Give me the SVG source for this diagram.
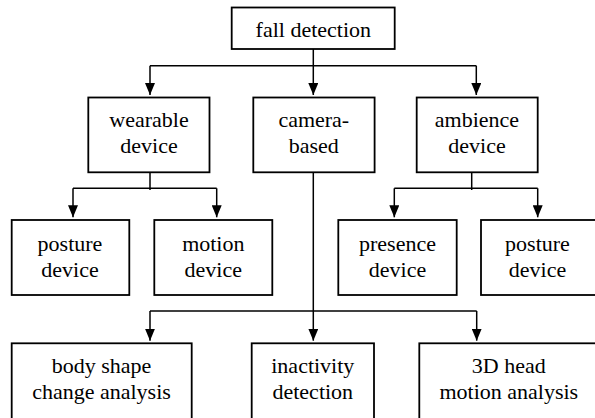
<svg xmlns="http://www.w3.org/2000/svg" width="595" height="418" viewBox="0 0 595 418">
<defs>
<marker id="arr" markerUnits="userSpaceOnUse" markerWidth="12" markerHeight="10" refX="12" refY="5" orient="auto">
<path d="M0,0 L12,5 L0,10 z" fill="#000"/>
</marker>
</defs>
<style>
.box{fill:#fff;stroke:#000;stroke-width:1.8}
.lbl{font-family:'Liberation Serif','Times New Roman',serif;font-size:22px;fill:#000;text-anchor:middle}
.ln{fill:none;stroke:#000;stroke-width:1.5}
</style>
<rect width="595" height="418" fill="#fff"/>
<g id="connectors">
<path class="ln" d="M313.3,49 V65.7"/>
<path class="ln" d="M150,65.7 H476.3"/>
<path class="ln" d="M150,65.7 V95" marker-end="url(#arr)"/>
<path class="ln" d="M313.3,65.7 V95" marker-end="url(#arr)"/>
<path class="ln" d="M476.3,65.7 V95" marker-end="url(#arr)"/>
<path class="ln" d="M150,172.3 V190"/>
<path class="ln" d="M73,188.3 H216.7"/>
<path class="ln" d="M73,188.3 V217.3" marker-end="url(#arr)"/>
<path class="ln" d="M216.7,188.3 V217.3" marker-end="url(#arr)"/>
<path class="ln" d="M471.7,172.3 V190"/>
<path class="ln" d="M394.3,188.3 H537.7"/>
<path class="ln" d="M394.3,188.3 V217.3" marker-end="url(#arr)"/>
<path class="ln" d="M537.7,188.3 V217.3" marker-end="url(#arr)"/>
<path class="ln" d="M313.3,172.3 V340.7" marker-end="url(#arr)"/>
<path class="ln" d="M150,311 H476.7"/>
<path class="ln" d="M150,311 V340.7" marker-end="url(#arr)"/>
<path class="ln" d="M476.7,311 V340.7" marker-end="url(#arr)"/>
</g>
<g id="fall-detection">
<rect class="box" x="231.7" y="7.5" width="163" height="41.5"/>
<text class="lbl" x="313.3" y="37.3">fall detection</text>
</g>
<g id="wearable-device">
<rect class="box" x="88.3" y="97.5" width="121.2" height="74.8"/>
<text class="lbl" x="149" y="127.3">wearable</text>
<text class="lbl" x="149" y="153.3">device</text>
</g>
<g id="camera-based">
<rect class="box" x="253.3" y="97.5" width="121.3" height="74.8"/>
<text class="lbl" x="313.8" y="127.3">camera-</text>
<text class="lbl" x="313.8" y="153.3">based</text>
</g>
<g id="ambience-device">
<rect class="box" x="416.7" y="97.5" width="121" height="74.8"/>
<text class="lbl" x="477" y="127.3">ambience</text>
<text class="lbl" x="477" y="153.3">device</text>
</g>
<g id="posture-device-1">
<rect class="box" x="11.7" y="220" width="117.6" height="75"/>
<text class="lbl" x="70" y="250.7">posture</text>
<text class="lbl" x="70" y="276.7">device</text>
</g>
<g id="motion-device">
<rect class="box" x="154.3" y="220" width="118" height="75"/>
<text class="lbl" x="213.3" y="250.7">motion</text>
<text class="lbl" x="213.3" y="276.7">device</text>
</g>
<g id="presence-device">
<rect class="box" x="338.3" y="220" width="118.4" height="75"/>
<text class="lbl" x="397.5" y="250.7">presence</text>
<text class="lbl" x="397.5" y="276.7">device</text>
</g>
<g id="posture-device-2">
<rect class="box" x="481" y="220" width="118" height="75"/>
<text class="lbl" x="537.5" y="250.7">posture</text>
<text class="lbl" x="537.5" y="276.7">device</text>
</g>
<g id="body-shape">
<rect class="box" x="11.7" y="343.3" width="180" height="80"/>
<text class="lbl" x="101.5" y="372.7">body shape</text>
<text class="lbl" x="101.5" y="399">change analysis</text>
</g>
<g id="inactivity-detection">
<rect class="box" x="251.7" y="343.3" width="122.3" height="80"/>
<text class="lbl" x="312.8" y="372.7">inactivity</text>
<text class="lbl" x="312.8" y="399">detection</text>
</g>
<g id="head-motion">
<rect class="box" x="419.3" y="343.3" width="179" height="80"/>
<text class="lbl" x="508.8" y="372.7">3D head</text>
<text class="lbl" x="508.8" y="399">motion analysis</text>
</g>
</svg>
